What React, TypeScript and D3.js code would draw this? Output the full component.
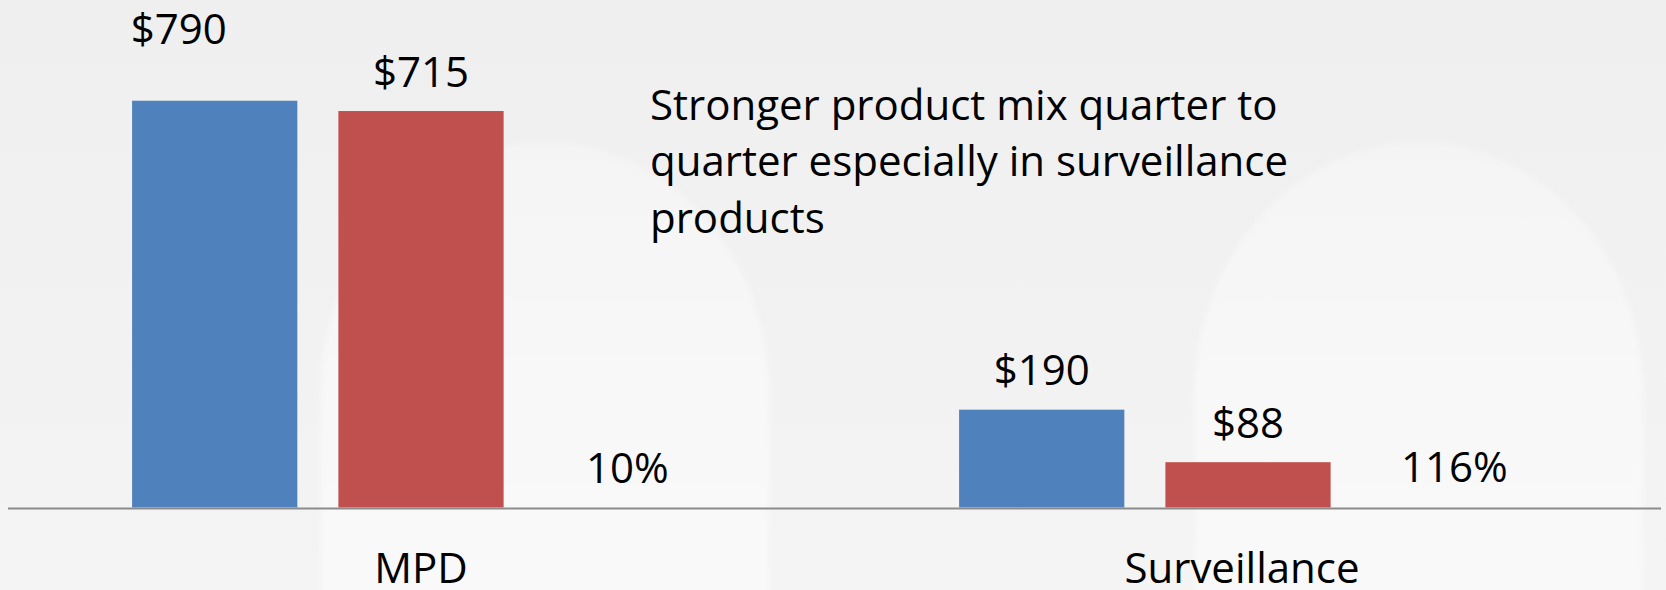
import React from 'react';
import * as d3 from 'd3';

// ---- data ----
const categories = ['MPD', 'Surveillance'];
const seriesKeys = ['current', 'prior', 'change'];
const currentValues = [790, 190];
const priorValues = [770, 88];
const changeValues = [0.1, 1.16];
const currentLabels = ['$790', '$190'];
const priorLabels = ['$715', '$88'];
const changeLabels = ['10%', '116%'];
const noteLines = [
  'Stronger product mix quarter to',
  'quarter especially in surveillance',
  'products',
];

// ---- layout / style ----
const W = 1666;
const H = 590;
const BASE = 507.5;
const PX_PER_UNIT = 0.5149;
const FONT = "'Open Sans', 'DejaVu Sans', sans-serif";
const FONT_SIZE = 42;
const COLORS: Record<string, string> = {
  current: '#4f81bd',
  prior: '#c0504d',
  change: 'none',
};
// manual nudges (as in the original slide)
const NUDGE: Record<string, [number, number]> = { 'current-0': [-36, -32] };
const CAT_NUDGE: Record<string, number> = { Surveillance: -6 };

function Arch({ left, right, top }: { left: number; right: number; top: number }) {
  const rx = (right - left) / 2;
  const ry = 250;
  const p = d3.path();
  p.moveTo(left, H + 10);
  p.lineTo(left, top + ry);
  const k = 0.5523;
  p.bezierCurveTo(left, top + ry - ry * k, left + rx - rx * k, top, left + rx, top);
  p.bezierCurveTo(left + rx + rx * k, top, right, top + ry - ry * k, right, top + ry);
  p.lineTo(right, H + 10);
  p.closePath();
  return <path d={p.toString()} fill="url(#archFill)" filter="url(#soft)" />;
}

export default function App() {
  const x0 = d3.scaleBand<string>().domain(categories).range([7.5, 1661.5]).padding(0);
  const x1 = d3
    .scaleBand<string>()
    .domain(seriesKeys)
    .range([0, x0.bandwidth()])
    .paddingInner(0.199)
    .paddingOuter(0.604);
  const y = d3
    .scaleLinear()
    .domain([0, 800])
    .range([BASE, BASE - 800 * PX_PER_UNIT]);

  const series: Record<string, { values: number[]; labels: string[] }> = {
    current: { values: currentValues, labels: currentLabels },
    prior: { values: priorValues, labels: priorLabels },
    change: { values: changeValues, labels: changeLabels },
  };

  return (
    <svg
      width={W}
      height={H}
      viewBox={`0 0 ${W} ${H}`}
      style={{ position: 'absolute', left: 0, top: 0, display: 'block' }}
    >
      <defs>
        <linearGradient id="bg" x1="0" y1="0" x2="0" y2="1">
          <stop offset="0" stopColor="#efefef" />
          <stop offset="1" stopColor="#f4f4f4" />
        </linearGradient>
        <linearGradient id="archFill" x1="0" y1="0" x2="0" y2="1">
          <stop offset="0" stopColor="#f4f4f4" />
          <stop offset="0.5" stopColor="#f8f8f8" />
          <stop offset="1" stopColor="#f9f9f9" />
        </linearGradient>
        <filter id="soft" x="-10%" y="-10%" width="120%" height="120%">
          <feGaussianBlur stdDeviation="2.5" />
        </filter>
      </defs>

      <rect x={0} y={0} width={W} height={H} fill="url(#bg)" />
      <Arch left={321} right={769} top={143} />
      <Arch left={1195} right={1643} top={143} />

      {categories.map((cat, ci) =>
        seriesKeys.map((key) => {
          const v = series[key].values[ci];
          const bx = (x0(cat) ?? 0) + (x1(key) ?? 0);
          const bw = x1.bandwidth();
          const top = y(v);
          return (
            <rect
              key={`${cat}-${key}`}
              x={bx}
              y={top}
              width={bw}
              height={BASE - top}
              fill={COLORS[key]}
            />
          );
        })
      )}

      <line x1={8} x2={1661} y1={BASE + 1} y2={BASE + 1} stroke="#8c8c8c" strokeWidth={2} />

      {categories.map((cat, ci) =>
        seriesKeys.map((key) => {
          const v = series[key].values[ci];
          const cx = (x0(cat) ?? 0) + (x1(key) ?? 0) + x1.bandwidth() / 2;
          const [dx, dy] = NUDGE[`${key}-${ci}`] ?? [0, 0];
          return (
            <text
              key={`lbl-${cat}-${key}`}
              x={cx + dx}
              y={y(v) - 24.5 + dy}
              textAnchor="middle"
              fontFamily={FONT}
              fontSize={FONT_SIZE}
              fill="#000"
            >
              {series[key].labels[ci]}
            </text>
          );
        })
      )}

      {categories.map((cat) => (
        <text
          key={`cat-${cat}`}
          x={(x0(cat) ?? 0) + x0.bandwidth() / 2 + (CAT_NUDGE[cat] ?? 0)}
          y={583}
          textAnchor="middle"
          fontFamily={FONT}
          fontSize={FONT_SIZE}
          fill="#000"
        >
          {cat}
        </text>
      ))}

      {noteLines.map((line, i) => (
        <text
          key={`note-${i}`}
          x={650}
          y={119.5 + i * 56.8}
          fontFamily={FONT}
          fontSize={FONT_SIZE}
          fill="#000"
        >
          {line}
        </text>
      ))}
    </svg>
  );
}
